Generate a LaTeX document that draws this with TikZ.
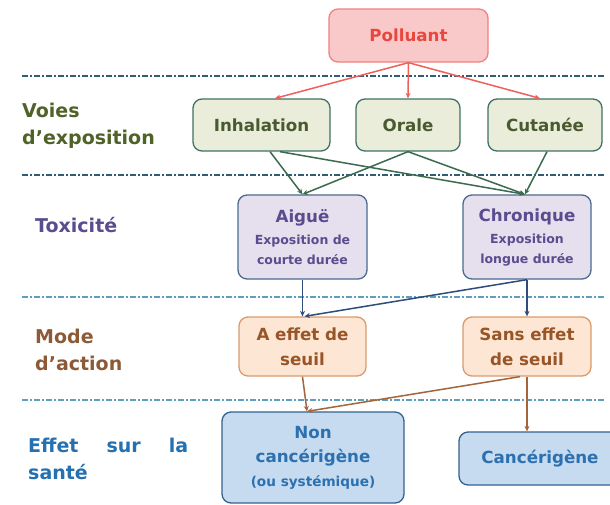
\documentclass[tikz,border=0pt]{standalone}
\usepackage{fontspec}
\setmainfont{DejaVu Sans}
\usetikzlibrary{arrows.meta,calc}
\definecolor{polfill}{HTML}{F9C9C9}
\definecolor{poldraw}{HTML}{F28080}
\definecolor{poltext}{HTML}{E8473F}
\definecolor{voifill}{HTML}{E9EDD9}
\definecolor{voidraw}{HTML}{3F7264}
\definecolor{voitext}{HTML}{4A5A30}
\definecolor{voilab}{HTML}{4F6228}
\definecolor{toxfill}{HTML}{E6E0EE}
\definecolor{toxdraw}{HTML}{4A6A90}
\definecolor{toxtext}{HTML}{5A4C8E}
\definecolor{modfill}{HTML}{FDE6D3}
\definecolor{moddraw}{HTML}{DC9A6C}
\definecolor{modtext}{HTML}{985628}
\definecolor{modlab}{HTML}{8C5A36}
\definecolor{effill}{HTML}{C6DBF0}
\definecolor{efdraw}{HTML}{33628F}
\definecolor{eftext}{HTML}{2C70B0}
\definecolor{eflab}{HTML}{2470B0}
\definecolor{redarr}{HTML}{F0605A}
\definecolor{grnarr}{HTML}{3C6A4E}
\definecolor{bluarr}{HTML}{2E4C7C}
\definecolor{brnarr}{HTML}{A5653C}
\definecolor{sepdark}{HTML}{2F5E72}
\definecolor{seplight}{HTML}{5E9FBB}
\newcommand{\subtxt}{\fontsize{12.5}{20}\selectfont}
\begin{document}
\begin{tikzpicture}[x=1pt,y=-1pt,
  box/.style={draw, rounded corners=9pt, line width=1.3pt, align=center, inner sep=0pt,
    font=\bfseries\fontsize{16.7}{22}\selectfont},
  polbox/.style={box, fill=polfill, draw=poldraw, text=poltext},
  voibox/.style={box, fill=voifill, draw=voidraw, text=voitext},
  toxbox/.style={box, fill=toxfill, draw=toxdraw, text=toxtext, font=\bfseries\fontsize{16.7}{20}\selectfont},
  modbox/.style={box, fill=modfill, draw=moddraw, text=modtext, font=\bfseries\fontsize{16.7}{25}\selectfont},
  efbox/.style={box, fill=effill, draw=efdraw, text=eftext, font=\bfseries\fontsize{16.7}{24}\selectfont},
  lab/.style={anchor=west, align=left, inner sep=0pt, font=\bfseries\fontsize{19}{27}\selectfont},
  arr/.style={-{Stealth[length=5.5pt,width=5pt]}, line width=1.5pt},
  sep/.style={line width=1.4pt, dash pattern=on 6pt off 2.2pt on 1.6pt off 2.2pt}
]
\useasboundingbox[fill=white] (0,0) rectangle (610,504);

% separators
\draw[sep, sepdark] (22,76) -- (605,76);
\draw[sep, sepdark] (22,175) -- (605,175);
\draw[sep, seplight] (22,297) -- (605,297);
\draw[sep, seplight] (22,400) -- (605,400);

% row labels
\node[lab, text=voilab] (lvoi) at (22,126) {Voies\\d’exposition};
\node[lab, text=toxtext] (ltox) at (35,225) {Toxicité};
\node[lab, text=modlab] (lmod) at (35,350) {Mode\\d’action};
\node[lab, text=eflab] (leff) at (28,459) {\makebox[160pt][s]{Effet\hfill sur\hfill la}\\santé};

% boxes
\node[polbox, minimum width=159pt, minimum height=53pt] (pol) at (408.5,35.5) {Polluant};
\node[voibox, minimum width=137pt, minimum height=52pt] (inh) at (261.5,125) {Inhalation};
\node[voibox, minimum width=104pt, minimum height=52pt] (ora) at (408,125) {Orale};
\node[voibox, minimum width=114pt, minimum height=52pt] (cut) at (545,125) {Cutanée};
\node[toxbox, minimum width=129pt, minimum height=84pt] (aig) at (302.5,237)
  {Aiguë\\[2pt]\subtxt Exposition de\\\subtxt courte durée};
\node[toxbox, minimum width=128pt, minimum height=84pt] (chr) at (527,237)
  {Chronique\\[2pt]\subtxt Exposition\\\subtxt longue durée};
\node[modbox, minimum width=127pt, minimum height=59pt] (ae) at (302.5,346.5) {A effet de\\seuil};
\node[modbox, minimum width=128pt, minimum height=59pt] (se) at (527,346.5) {Sans effet\\de seuil};
\node[efbox, minimum width=182pt, minimum height=91pt] (non) at (313,457.5)
  {Non\\cancérigène\\\fontsize{13.6}{23}\selectfont (ou systémique)};
\node[efbox, minimum width=162pt, minimum height=53pt] (can) at (540,458.5) {Cancérigène};

% red arrows
\draw[arr, redarr] (pol.south) -- ([xshift=13.5pt]inh.north);
\draw[arr, redarr] (pol.south) -- (ora.north);
\draw[arr, redarr] (pol.south) -- ([xshift=-5pt]cut.north);

% green arrows
\draw[arr, grnarr] ([xshift=8.5pt]inh.south) -- (aig.north);
\draw[arr, grnarr] ([xshift=18.5pt]inh.south) -- ([xshift=-2pt]chr.north);
\draw[arr, grnarr] (ora.south) -- (aig.north);
\draw[arr, grnarr] (ora.south) -- ([xshift=-2pt]chr.north);
\draw[arr, grnarr] ([xshift=2pt]cut.south) -- ([xshift=-2pt]chr.north);

% blue arrows
\draw[arr, bluarr] (aig.south) -- (aig.south |- ae.north);
\draw[arr, bluarr] (chr.south) -- (chr.south |- se.north);
\draw[arr, bluarr] (chr.south) -- ([xshift=2pt]ae.north);

% brown arrows
\draw[arr, brnarr] (ae.south) -- ([xshift=-6pt]non.north);
\draw[arr, brnarr] ([xshift=-7pt]se.south) -- ([xshift=-6pt]non.north);
\draw[arr, brnarr] (se.south) -- (se.south |- can.north);
\end{tikzpicture}
\end{document}
